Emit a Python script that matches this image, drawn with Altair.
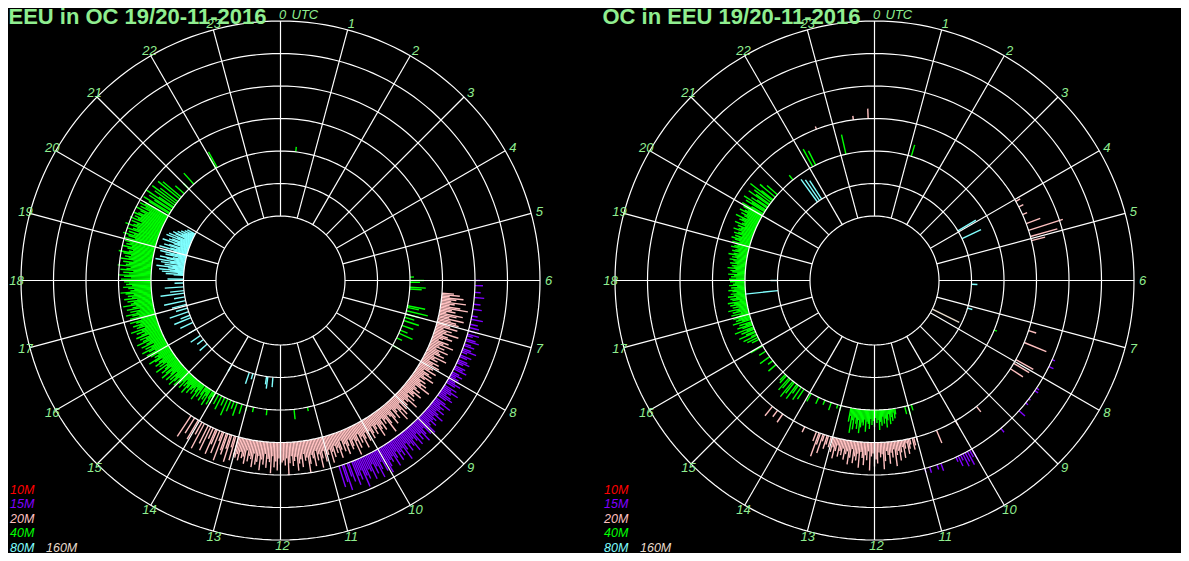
import altair as alt
import pandas as pd

# ---------------- data ----------------
HOURS = list(range(24))
PANELS = ["L", "R"]
PANEL_TITLES = ["EEU in OC 19/20-11-2016", "OC in EEU 19/20-11-2016"]
BANDS = ["10M", "15M", "20M", "40M", "80M", "160M"]
BAND_COLORS = ["#ff0000", "#8000ff", "#ffc0c0", "#00ff00", "#80ffff", "#e8dccc"]
RINGS = [0, 1, 2, 3, 4, 5, 6]
SAMPLE_MIN = 2  # minutes between samples in the dense runs

# ---- left panel (EEU in OC): dense runs (start hour, value per 2-minute sample)
L20_START = 6.3
L20_DB = [12, 18, 8, 22, 15, 10, 25, 14, 9, 20, 28, 12, 16, 7, 24, 18, 11, 26, 13, 19, 22,
          10, 14, 22, 8, 17, 12, 25, 9, 15, 20, 11, 7, 18, 13, 24, 10, 16, 8, 21, 12, 14, 19, 9, 23, 11, 15, 7, 18, 12, 20,
          9, 15, 12, 20, 7, 14, 18, 10, 22, 13, 8, 16, 11, 19, 14, 25, 9, 12, 17, 10, 21, 13, 15, 8, 18, 11, 24, 14, 10, 16,
          12, 18, 9, 22, 15, 26, 11, 14, 20, 8, 17, 23, 13, 10, 19, 28, 12, 16, 9, 21, 14, 18, 25, 11, 15, 20, 10, 17, 22, 13,
          15, 22, 12, 18, 27, 14, 20, 10, 24, 16, 30, 13, 19, 22, 11, 17, 25, 14, 21, 9, 18, 26, 15, 20, 12, 23, 17, 28, 14, 19,
          18, 25, 14, 21, 30, 16, 22, 12, 27, 19, 15, 24, 32, 17, 20, 13, 26, 18, 22, 29, 15, 19, 24, 14, 21, 33, 16, 23, 18, 20,
          22, 16, 28, 19, 25, 14, 31, 20, 17, 26, 12, 23, 18, 29, 15, 21, 24, 13, 27, 19, 16, 22, 11, 25, 18, 20, 14, 23, 17, 21,
          20, 0, 25, 12, 0, 28, 15, 0, 22, 18, 0, 30, 10, 0, 24, 0, 16, 27, 0, 12, 0, 26, 0, 20, 0, 0, 28, 0, 14, 0, 0, 22, 0, 0, 18, 0, 0, 25, 0]

L15_START = 6.0
L15_DB = [5, 0, 0, 8, 0, 0, 0, 6, 0, 0, 10, 0, 0, 0, 7, 0, 0, 9, 0, 0, 0, 6, 0, 12, 0, 0, 8, 0, 10, 0,
          8, 0, 12, 6, 0, 10, 14, 0, 7, 11, 0, 9, 15, 6, 0, 12, 8, 0, 10, 13, 7, 0, 11, 9, 14, 0, 8, 12, 6, 10,
          12, 8, 15, 10, 0, 14, 9, 18, 11, 7, 13, 16, 10, 0, 12, 19, 8, 14, 11, 17, 9, 13, 20, 10, 15, 12, 18, 11, 14, 22,
          14, 20, 11, 17, 24, 13, 19, 10, 22, 16, 12, 25, 18, 14, 21, 11, 17, 27, 13, 20, 15, 23, 12, 18, 26, 14, 19, 16, 22, 28,
          18, 24, 13, 20, 28, 15, 22, 11, 26, 17, 14, 23, 19, 30, 12, 21, 16, 25, 0, 20, 14, 0, 27, 18, 0, 22, 0]

L40_START = 14.0
L40_DB = [12, 6, 15, 9, 0, 18, 8, 13, 5, 16, 10, 0, 14, 7, 19, 11, 6, 15, 9, 12, 17, 8, 13, 20, 10, 14, 7, 18, 11, 15,
          14, 20, 11, 17, 23, 13, 19, 9, 22, 15, 12, 24, 18, 10, 21, 16, 13, 25, 11, 19, 14, 22, 17, 12, 20, 26, 15, 18, 13, 21,
          18, 24, 14, 20, 27, 16, 22, 12, 25, 19, 15, 28, 21, 17, 23, 13, 26, 20, 16, 24, 18, 29, 14, 22, 19, 25, 17, 21, 27, 15,
          20, 26, 16, 23, 29, 18, 24, 14, 27, 21, 17, 30, 22, 19, 25, 15, 28, 20, 24, 18, 26, 31, 21, 17, 23, 28, 19, 25, 22, 27,
          24, 30, 20, 27, 33, 22, 28, 18, 31, 25, 21, 34, 26, 23, 29, 19, 32, 24, 28, 22, 30, 35, 25, 21, 27, 32, 23, 29, 26, 31,
          26, 32, 22, 29, 35, 24, 30, 20, 33, 27, 23, 36, 28, 25, 31, 21, 34, 26, 30, 24, 32, 28, 22, 27, 33, 19, 29, 24, 31, 26,
          28, 0, 24, 31, 0, 20, 27, 0, 33, 18, 0, 25, 0, 30, 0, 22, 0, 0, 28, 0, 24]

L80_START = 18.2
L80_DB = [10, 18, 6, 22, 14, 25, 9, 16, 28, 12, 20, 7, 24, 15, 30, 11, 19, 26, 13, 8, 21, 17, 27, 10, 23, 14,
          29, 18, 12, 25, 20, 9, 16, 28, 13, 22, 19, 11, 26, 15, 24, 8, 18, 21, 12, 17, 10, 14, 7, 11, 5, 9]

# left panel sparse spots: (hour, value)
L40_PTS = [(0.45, 5), (5.9, 4), (6.0, 14), (6.05, 10), (6.2, 16), (6.25, 12), (6.75, 18), (6.8, 12), (6.9, 22),
           (7.0, 14), (7.1, 10), (7.2, 16), (7.35, 12), (7.5, 8), (7.6, 15), (7.75, 6), (8.0, 8),
           (11.2, 4), (11.6, 10), (12.4, 6), (12.8, 5), (13.0, 6), (13.15, 10), (13.3, 14), (13.4, 8), (13.5, 12),
           (13.6, 18), (13.7, 9), (13.8, 15), (13.9, 11), (20.8, 12), (21.0, 8), (21.2, 15), (22.0, 12), (22.05, 18)]
L80_PTS = [(12.3, 10), (12.5, 12), (12.55, 8), (13.1, 6), (13.25, 12), (14.0, 8), (15.27, 10), (15.5, 8), (15.7, 12),
           (16.0, 9), (16.3, 14), (16.5, 18), (16.6, 10), (16.75, 20), (16.9, 12), (17.05, 15), (17.2, 22),
           (17.35, 11), (17.5, 24), (17.6, 14), (17.75, 19), (17.9, 9), (18.05, 16)]

# ---- right panel (OC in EEU)
R40A_START = 16.2
R40A_DB = [8, 0, 12, 0, 15, 6, 0, 18, 10, 0, 14, 8, 20, 0, 11, 16, 7, 13, 0, 19, 9, 15, 12, 17,
           14, 10, 18, 8, 16, 12, 20, 9, 15, 11, 17, 13, 19, 7, 14, 16, 10, 18, 12, 15, 9, 13, 17, 11, 14, 8, 16, 12, 10, 15,
           12, 16, 9, 14, 11, 17, 8, 13, 15, 10, 18, 12, 14, 9, 16, 11, 13, 17, 10, 15, 12, 19, 14, 9, 16, 13, 11, 18, 15, 12,
           14, 18, 11, 16, 20, 13, 17, 10, 19, 15, 12, 21, 16, 14, 18, 11, 22, 15, 13, 19, 17, 24, 12, 16, 20, 14, 23, 18, 15, 21,
           18, 24, 14, 0, 22, 16, 26, 0, 19, 13, 0, 25, 17, 0, 21, 0, 28, 15, 0, 0, 20, 0, 0, 14, 0]
R40B_START = 11.4
R40B_DB = [6, 10, 4, 12, 8, 15, 5, 11, 18, 9, 14, 7, 16, 12, 20, 10, 13, 8, 17, 11, 15, 9, 19, 14, 12, 22, 10, 16,
           13, 18, 24, 11, 20, 15, 9, 21, 12, 25, 8, 14]
R20_START = 11.0
R20_DB = [5, 0, 8, 12, 0, 6, 10, 15, 4, 9, 18, 7, 12, 20, 10, 14, 25, 8, 16, 11, 22, 13, 9, 19, 27, 12, 15, 10, 21, 17,
          24, 11, 14, 28, 9, 18, 13, 23, 16, 10, 26, 12, 19, 15, 22, 8, 17, 24, 11, 14, 20, 9, 16, 12, 18, 7, 13, 21,
          10, 15, 6, 11, 0, 9, 14, 0, 7, 20, 0, 12, 25, 0, 10]

R40_PTS = [(10.9, 6), (11.0, 10), (11.1, 8), (13.0, 6), (13.1, 4), (13.3, 8), (13.5, 5), (13.7, 7), (13.95, 9),
           (14.2, 12), (14.3, 15), (14.4, 10), (14.45, 18), (14.55, 14), (14.6, 20), (14.7, 12), (14.75, 16),
           (14.85, 10), (14.9, 8), (15.3, 10), (15.45, 6), (15.6, 12), (15.8, 8), (15.98, 14), (21.4, 6),
           (22.1, 20), (22.2, 16), (23.15, 20), (1.1, 12), (7.5, 3)]
R20_PTS = [(4.05, 5), (4.2, 5), (4.4, 5), (4.63, 15), (4.8, 36), (4.95, 28), (5.05, 14), (7.2, 8), (7.5, 24),
           (7.95, 20), (8.05, 18), (8.2, 15), (9.4, 7), (10.0, 5), (10.5, 14), (13.7, 6), (14.3, 10), (14.45, 8),
           (14.6, 12), (22.6, 3), (23.5, 4), (23.85, 10)]
R15_PTS = [(7.6, 3), (7.75, 5), (8.24, 3), (8.3, 4), (8.5, 2), (8.6, 3), (8.8, 8), (9.3, 5), (10.0, 12), (10.05, 8),
           (10.1, 15), (10.15, 10), (10.2, 14), (10.25, 6), (10.3, 11), (10.35, 5), (10.67, 8), (10.75, 5),
           (10.9, 6), (11.0, 4)]
R80_PTS = [(3.95, 21), (4.3, 21), (6.15, 6), (7.1, 5), (17.6, 33), (18.0, 7), (21.6, 28), (21.7, 25), (21.8, 22)]
R160_PTS = [(7.75, 30)]

# ---------------- table ----------------
rows = []


def add_run(panel, band, start, vals):
    for i, v in enumerate(vals):
        if v > 0:
            rows.append({"panel": panel, "band": band, "hour": start + i * SAMPLE_MIN / 60.0, "db": v})


def add_pts(panel, band, pts):
    for h, v in pts:
        rows.append({"panel": panel, "band": band, "hour": h, "db": v})


add_run("L", "20M", L20_START, L20_DB)
add_run("L", "15M", L15_START, L15_DB)
add_run("L", "40M", L40_START, L40_DB)
add_run("L", "80M", L80_START, L80_DB)
add_pts("L", "40M", L40_PTS)
add_pts("L", "80M", L80_PTS)
add_run("R", "40M", R40A_START, R40A_DB)
add_run("R", "40M", R40B_START, R40B_DB)
add_run("R", "20M", R20_START, R20_DB)
add_pts("R", "40M", R40_PTS)
add_pts("R", "20M", R20_PTS)
add_pts("R", "15M", R15_PTS)
add_pts("R", "80M", R80_PTS)
add_pts("R", "160M", R160_PTS)
spots = pd.DataFrame(rows)

rings_df = pd.DataFrame([{"panel": p, "ring": k} for p in PANELS for k in RINGS])
hours_df = pd.DataFrame([{"panel": p, "hour": h} for p in PANELS for h in HOURS])
titles_df = pd.DataFrame({"panel": PANELS, "title": PANEL_TITLES})
LEG_ROW = [0, 1, 2, 3, 4, 4]
LEG_COL = [0, 0, 0, 0, 0, 1]
legend_df = pd.DataFrame([{"panel": p, "band": b, "row": r, "col": c}
                          for p in PANELS for b, r, c in zip(BANDS, LEG_ROW, LEG_COL)])

# ---------------- layout constants ----------------
W, H = 1173, 545
XS = alt.Scale(domain=[-272.5, 900.5], nice=False, zero=False)
YS = alt.Scale(domain=[-272.5, 272.5], nice=False, zero=False)
CX = "datum.panel == 'R' ? 594 : 0"
R_IN, R_STEP, R_OUT = 64.5, 32.5, 259.5
FONT = "Liberation Sans"
LABEL_GREEN = "#90ee90"
band_color = alt.Color("band:N", scale=alt.Scale(domain=BANDS, range=BAND_COLORS), legend=None)


def X(f):
    return alt.X(f, type="quantitative", scale=XS, axis=None)


def Y(f):
    return alt.Y(f, type="quantitative", scale=YS, axis=None)


# spikes
spikes = (
    alt.Chart(spots)
    .transform_calculate(cx=CX)
    .transform_calculate(r0=f"{R_IN} + {R_STEP} * indexof(['160M','80M','40M','20M','15M','10M'], datum.band)")
    .transform_calculate(th="datum.hour * PI / 12")
    .transform_calculate(x0="datum.cx + datum.r0 * sin(datum.th)")
    .transform_calculate(y0="datum.r0 * cos(datum.th)")
    .transform_calculate(x1="datum.cx + (datum.r0 + datum.db) * sin(datum.th)")
    .transform_calculate(y1="(datum.r0 + datum.db) * cos(datum.th)")
    .mark_rule(strokeWidth=1.4)
    .encode(x=X("x0"), y=Y("y0"), x2="x1:Q", y2="y1:Q", color=band_color)
)

# rings
rings = (
    alt.Chart(rings_df)
    .transform_calculate(deg="sequence(0, 362, 2)")
    .transform_flatten(["deg"])
    .transform_calculate(cx=CX)
    .transform_calculate(r=f"{R_IN} + {R_STEP} * datum.ring")
    .transform_calculate(key="datum.panel + '_' + datum.ring")
    .transform_calculate(px="datum.cx + datum.r * sin(datum.deg * PI / 180)")
    .transform_calculate(py="datum.r * cos(datum.deg * PI / 180)")
    .mark_line(color="white", strokeWidth=1.2)
    .encode(x=X("px"), y=Y("py"), detail="key:N", order="deg:Q")
)

# spokes
spokes = (
    alt.Chart(hours_df)
    .transform_calculate(cx=CX)
    .transform_calculate(th="datum.hour * PI / 12")
    .transform_calculate(x0=f"datum.cx + {R_IN} * sin(datum.th)")
    .transform_calculate(y0=f"{R_IN} * cos(datum.th)")
    .transform_calculate(x1=f"datum.cx + {R_OUT} * sin(datum.th)")
    .transform_calculate(y1=f"{R_OUT} * cos(datum.th)")
    .mark_rule(color="white", strokeWidth=1.2)
    .encode(x=X("x0"), y=Y("y0"), x2="x1:Q", y2="y1:Q")
)

# hour labels
hour_labels = (
    alt.Chart(hours_df)
    .transform_calculate(cx=CX)
    .transform_calculate(th="datum.hour * PI / 12")
    .transform_calculate(lx="datum.cx + 2 + 266 * sin(datum.th)")
    .transform_calculate(ly="265.5 * cos(datum.th)")
    .mark_text(font=FONT, fontSize=13, fontStyle="italic", color=LABEL_GREEN, align="center", baseline="middle")
    .encode(x=X("lx"), y=Y("ly"), text="hour:N")
)

utc = (
    alt.Chart(titles_df)
    .transform_calculate(cx=CX)
    .transform_calculate(lx="datum.cx + 11")
    .transform_calculate(ly="265.5")
    .transform_calculate(t="'UTC'")
    .mark_text(font=FONT, fontSize=13, fontStyle="italic", color=LABEL_GREEN, align="left", baseline="middle")
    .encode(x=X("lx"), y=Y("ly"), text="t:N")
)

titles = (
    alt.Chart(titles_df)
    .transform_calculate(cx=CX)
    .transform_calculate(lx="datum.cx - 272")
    .transform_calculate(ly="256.5")
    .mark_text(font=FONT, fontSize=22, fontWeight="bold", color=LABEL_GREEN, align="left", baseline="alphabetic")
    .encode(x=X("lx"), y=Y("ly"), text="title:N")
)

legend = (
    alt.Chart(legend_df)
    .transform_calculate(cx=CX)
    .transform_calculate(lx="datum.cx - 270.5 + 36 * datum.col")
    .transform_calculate(ly="-209 - 14.5 * datum.row")
    .mark_text(font=FONT, fontSize=12.5, fontStyle="italic", align="left", baseline="middle")
    .encode(x=X("lx"), y=Y("ly"), text="band:N", color=band_color)
)

chart = (
    alt.layer(spikes, rings, spokes, hour_labels, utc, titles, legend)
    .properties(width=W, height=H, background="black", padding=0,
                autosize=alt.AutoSizeParams(type="none"))
    .configure_view(stroke=None)
)

chart.save("out.html", embed_options={"renderer": "svg", "actions": False})
